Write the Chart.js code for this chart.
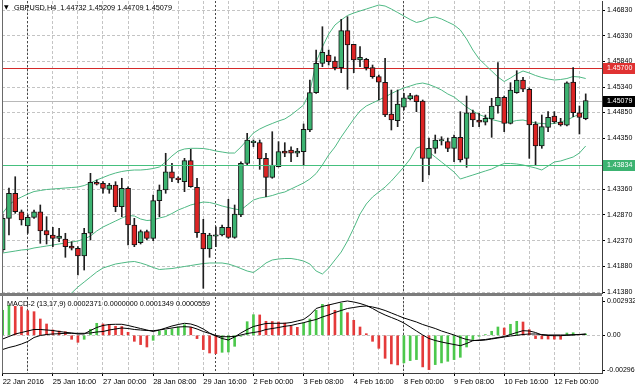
<!DOCTYPE html>
<html><head><meta charset="utf-8">
<script src="https://cdn.jsdelivr.net/npm/chart.js@4.4.1/dist/chart.umd.min.js"></script>
<style>
html,body{margin:0;padding:0;background:#fff;}
#wrap{position:relative;width:635px;height:391px;overflow:hidden;background:#fff;}
#c1{position:absolute;left:0;top:0;}
#c2{position:absolute;left:0;top:296px;}
</style></head><body>
<div id="wrap"><canvas id="c1" width="635" height="296"></canvas><canvas id="c2" width="635" height="95"></canvas></div>
<script>
// ---------- DATA ----------
const symbolName = 'GBPUSD,H4';
const openP = [1.42192,1.42804,1.43288,1.42932,1.42656,1.42824,1.42932,1.42565,1.42482,1.42418,
1.42404,1.42269,1.42225,1.42076,1.42515,1.43500,1.43481,1.43365,1.43448,1.43029,
1.43384,1.42675,1.42333,1.42546,1.42418,1.43145,1.43351,1.43705,1.43564,1.43512,
1.43918,1.43404,1.42515,1.42211,1.42457,1.42482,1.42631,1.42437,1.42868,1.43867,
1.44266,1.44266,1.43964,1.43597,1.43802,1.44105,1.44124,1.44061,1.44092,1.44511,
1.45232,1.45800,1.45960,1.45844,1.45715,1.46430,1.46167,1.45864,1.45877,1.45715,
1.45541,1.45433,1.44820,1.44691,1.44950,1.45110,1.45174,1.45071,1.43964,1.44157,
1.44298,1.44285,1.44157,1.44370,1.43964,1.44845,1.44704,1.44660,1.44724,1.44975,
1.45143,1.44640,1.45232,1.45477,1.45298,1.44627,1.44202,1.44563,1.44782,1.44666,
1.44602,1.45439,1.44845,1.44732];
const highP = [1.42887,1.43390,1.43608,1.42965,1.42868,1.42965,1.43062,1.42835,1.42631,1.42611,
1.42515,1.42352,1.42256,1.42611,1.43674,1.43545,1.43512,1.43481,1.43512,1.43578,
1.43415,1.42804,1.42578,1.42578,1.43255,1.43448,1.44061,1.43867,1.43608,1.43964,
1.44138,1.43578,1.42785,1.42515,1.42642,1.42675,1.43172,1.43062,1.43898,1.44447,
1.44318,1.44318,1.44061,1.44478,1.44285,1.44266,1.44188,1.44157,1.44627,1.45477,
1.46057,1.46507,1.46057,1.45927,1.46650,1.46701,1.46167,1.46121,1.45897,1.45767,
1.45574,1.45897,1.45284,1.45284,1.45220,1.45220,1.45187,1.45091,1.44356,1.44414,
1.44381,1.44356,1.44414,1.44865,1.45168,1.44897,1.44834,1.44801,1.45124,1.45812,
1.45168,1.45425,1.45657,1.45529,1.45323,1.44671,1.44801,1.44865,1.44865,1.44737,
1.45444,1.45715,1.44975,1.45209];
const lowP = [1.42153,1.42482,1.42901,1.42675,1.42515,1.42804,1.42321,1.42308,1.42256,1.42352,
1.42051,1.42192,1.41709,1.41805,1.42385,1.43448,1.43288,1.43288,1.42932,1.42835,
1.42288,1.42256,1.42308,1.42385,1.42372,1.42835,1.43288,1.43512,1.43492,1.43319,
1.43404,1.42437,1.41452,1.42051,1.42256,1.42462,1.42418,1.42418,1.42835,1.43835,
1.44188,1.43751,1.43222,1.43578,1.43796,1.43995,1.43898,1.43995,1.43835,1.44478,
1.45220,1.45734,1.45767,1.45670,1.45618,1.45298,1.45618,1.45734,1.45670,1.45510,
1.45091,1.44768,1.44511,1.44575,1.44897,1.45091,1.44865,1.43512,1.43641,1.44061,
1.44221,1.44092,1.43898,1.43892,1.43790,1.44575,1.44575,1.44608,1.44370,1.44834,
1.44478,1.44627,1.45220,1.45251,1.43964,1.43835,1.44157,1.44478,1.44640,1.44588,
1.44588,1.44768,1.44434,1.44709];
const closeP = [1.42804,1.43288,1.42932,1.42772,1.42824,1.42932,1.42559,1.42482,1.42418,1.42462,
1.42256,1.42225,1.42076,1.42515,1.43500,1.43462,1.43384,1.43448,1.43029,1.43384,
1.42675,1.42288,1.42546,1.42418,1.43145,1.43351,1.43705,1.43578,1.43552,1.43918,
1.43415,1.42526,1.42211,1.42482,1.42476,1.42631,1.42437,1.42887,1.43867,1.44318,
1.44268,1.43951,1.43597,1.43835,1.44092,1.44061,1.44061,1.44105,1.44524,1.45232,
1.45800,1.46013,1.45831,1.45715,1.46430,1.46154,1.45864,1.45916,1.45715,1.45541,
1.45433,1.44801,1.44704,1.45013,1.45135,1.45174,1.45058,1.43964,1.44157,1.44318,
1.44300,1.44157,1.44370,1.43931,1.44845,1.44704,1.44660,1.44737,1.44975,1.45143,
1.44640,1.45284,1.45477,1.45298,1.44608,1.44202,1.44575,1.44756,1.44666,1.44608,
1.45425,1.44845,1.44756,1.45079];
const bbUpper = [1.42907,1.43062,1.43158,1.43216,1.43274,1.43322,1.43342,1.43361,1.43371,1.43380,
1.43390,1.43400,1.43409,1.43438,1.43487,1.43545,1.43593,1.43641,1.43680,1.43709,
1.43728,1.43738,1.43738,1.43748,1.43767,1.43796,1.43893,1.44008,1.44105,1.44144,
1.44157,1.44157,1.44153,1.44134,1.44105,1.44086,1.44066,1.44066,1.44182,1.44318,
1.44453,1.44530,1.44588,1.44637,1.44685,1.44724,1.44801,1.44897,1.44994,1.45245,
1.45825,1.46115,1.46366,1.46540,1.46637,1.46724,1.46772,1.46811,1.46849,1.46888,
1.46927,1.46907,1.46849,1.46782,1.46714,1.46646,1.46589,1.46618,1.46675,1.46695,
1.46656,1.46598,1.46540,1.46444,1.46270,1.46057,1.45883,1.45767,1.45651,1.45535,
1.45448,1.45516,1.45593,1.45651,1.45613,1.45564,1.45526,1.45497,1.45477,1.45487,
1.45506,1.45545,1.45535,1.45506];
const bbMiddle = [1.42134,1.42153,1.42172,1.42192,1.42202,1.42231,1.42250,1.42269,1.42288,1.42308,
1.42327,1.42346,1.42366,1.42404,1.42462,1.42559,1.42636,1.42694,1.42752,1.42810,
1.42859,1.42849,1.42791,1.42762,1.42772,1.42810,1.42839,1.42897,1.42965,1.43013,
1.43062,1.43091,1.43119,1.43110,1.43081,1.43042,1.43013,1.42984,1.42965,1.43062,
1.43158,1.43197,1.43216,1.43245,1.43284,1.43313,1.43371,1.43429,1.43487,1.43564,
1.43670,1.43835,1.44028,1.44182,1.44376,1.44550,1.44724,1.44878,1.44975,1.45033,
1.45091,1.45149,1.45216,1.45274,1.45323,1.45361,1.45400,1.45419,1.45390,1.45342,
1.45284,1.45207,1.45149,1.45052,1.44955,1.44878,1.44810,1.44762,1.44714,1.44685,
1.44656,1.44666,1.44695,1.44704,1.44675,1.44646,1.44637,1.44627,1.44637,1.44666,
1.44704,1.44762,1.44820,1.44869];
const bbLower = [1.41361,1.41245,1.41187,1.41168,1.41129,1.41139,1.41158,1.41177,1.41206,1.41235,
1.41284,1.41361,1.41477,1.41573,1.41670,1.41767,1.41844,1.41883,1.41921,1.41941,
1.41960,1.41970,1.41941,1.41902,1.41854,1.41815,1.41825,1.41834,1.41854,1.41873,
1.41892,1.41912,1.41931,1.41941,1.41941,1.41941,1.41921,1.41883,1.41834,1.41786,
1.41757,1.41844,1.41941,1.41999,1.42018,1.42028,1.42028,1.42008,1.41979,1.41921,
1.41786,1.41728,1.41844,1.41999,1.42153,1.42366,1.42617,1.42887,1.43081,1.43216,
1.43313,1.43409,1.43525,1.43661,1.43796,1.43951,1.44163,1.44202,1.44086,1.43989,
1.43893,1.43796,1.43699,1.43564,1.43603,1.43641,1.43680,1.43719,1.43757,1.43815,
1.43864,1.43864,1.43854,1.43835,1.43806,1.43777,1.43738,1.43815,1.43893,1.43912,
1.43951,1.43989,1.44066,1.44202];
const macdHist = [0.002138,0.002565,0.002480,0.002445,0.002103,0.002018,0.001394,0.000966,0.000453,0.000368,
0.000308,-0.000342,-0.000599,-0.000342,0.000513,0.001026,0.000966,0.000930,0.000770,0.000750,
0.000257,-0.000513,-0.000795,-0.001000,-0.000428,0.000342,0.000428,0.000539,0.000710,0.000906,
0.000684,-0.000282,-0.001223,-0.001513,-0.001565,-0.001454,-0.001428,-0.000941,-0.000086,0.001163,
0.001761,0.001740,0.001197,0.001180,0.001137,0.001052,0.000770,0.000684,0.001052,0.001394,
0.002138,0.002650,0.002600,0.002138,0.002736,0.001932,0.001283,0.000710,0.000137,-0.000513,
-0.001112,-0.001967,-0.002445,-0.002531,-0.002360,-0.002163,-0.002078,-0.002702,-0.002933,-0.002505,
-0.002360,-0.002223,-0.002078,-0.001881,-0.001000,-0.000368,-0.000086,0.000060,0.000342,0.000710,
0.000624,0.000941,0.001197,0.001137,0.000479,-0.000282,-0.000308,-0.000322,-0.000330,-0.000340,
0.000197,0.000220,0.000086,0.000111];
const macdMain = [-0.000316,-0.000103,0.000111,0.000239,0.000368,0.000496,0.000496,0.000453,0.000410,0.000325,
0.000257,0.000197,0.000111,0.000111,0.000410,0.000667,0.000838,0.000923,0.000941,0.000941,
0.000838,0.000710,0.000581,0.000453,0.000325,0.000453,0.000624,0.000795,0.000923,0.001026,
0.000966,0.000795,0.000539,0.000197,-0.000060,-0.000274,-0.000402,-0.000145,0.000197,0.000496,
0.000752,0.000881,0.001009,0.001026,0.001026,0.001026,0.001094,0.001223,0.001351,0.001736,
0.002291,0.002462,0.002591,0.002719,0.002847,0.002933,0.002847,0.002719,0.002548,0.002291,
0.001992,0.001736,0.001522,0.001308,0.001052,0.000710,0.000368,0.000026,-0.000274,-0.000445,
-0.000573,-0.000684,-0.000787,-0.000889,-0.000701,-0.000462,-0.000402,-0.000359,-0.000274,-0.000188,
-0.000103,0.000068,0.000239,0.000393,0.000368,0.000239,0.000026,-0.000017,-0.000034,-0.000034,
0.000000,0.000026,0.000068,0.000111];
const macdSignal = [-0.001214,-0.001043,-0.000915,-0.000744,-0.000530,-0.000188,-0.000017,0.000068,0.000111,0.000137,
0.000171,0.000171,0.000171,0.000171,0.000197,0.000282,0.000325,0.000453,0.000539,0.000624,
0.000581,0.000496,0.000453,0.000410,0.000393,0.000453,0.000539,0.000624,0.000710,0.000735,
0.000710,0.000539,0.000325,0.000154,-0.000017,-0.000120,-0.000120,-0.000103,0.000026,0.000154,
0.000239,0.000325,0.000496,0.000581,0.000667,0.000770,0.000838,0.000966,0.001077,0.001223,
0.001351,0.001565,0.001736,0.001949,0.002120,0.002291,0.002377,0.002462,0.002505,0.002420,
0.002291,0.002120,0.001907,0.001693,0.001479,0.001308,0.001137,0.000923,0.000752,0.000581,
0.000368,0.000197,0.000026,-0.000188,-0.000359,-0.000445,-0.000445,-0.000402,-0.000316,-0.000231,
-0.000145,-0.000060,0.000000,0.000068,0.000111,0.000111,0.000068,0.000026,0.000026,0.000026,
0.000026,0.000051,0.000068,0.000086];
const priceTicks = [1.41380,1.41880,1.42370,1.42870,1.43360,1.43850,1.44350,1.44850,1.45340,1.45840,1.46330,1.46830];
const macdTicks = [0.002932, 0, -0.002967];
const macdTickLabels = ['0.002932', '0.00', '-0.002967'];
const timeLabelBars = [0,8,16,24,32,40,48,56,64,72,80,88];
const timeLabels = ['22 Jan 2016','25 Jan 16:00','27 Jan 00:00','28 Jan 08:00','29 Jan 16:00','2 Feb 00:00',
  '3 Feb 08:00','4 Feb 16:00','8 Feb 00:00','9 Feb 08:00','10 Feb 16:00','12 Feb 00:00'];
const gridBars = [0,4,8,12,16,20,24,28,32,36,40,44,48,52,56,60,64,68,72,76,80,84,88,92];
const weekStartBars = [4, 34, 64];
const resistanceLevel = 1.45700;
const supportLevel = 1.43834;
const macdTitle = 'MACD-2 (13,17,9) 0.0002371 0.0000000 0.0001349 0.0000559';

// ---------- STYLE ----------
const BULL = '#3cb371', BEAR = '#dc2424', EDGE = '#141414', BAND = '#4fb984';
const SUPPORT = '#45c07e';
const GRID = '#c4c4c4', AXIS = '#3c3c3c';
const FONT = '"Liberation Sans", Arial, sans-serif';
const XMIN = -0.11, XMAX = 95.6;

const idx = openP.map((_, i) => i);
const bodies = idx.map(i => ({x: i, y: [openP[i], closeP[i]]}));
const wicks = idx.map(i => ({x: i, y: [lowP[i], highP[i]]}));
const bodyColors = idx.map(i => closeP[i] >= openP[i] ? BULL : BEAR);
const line = arr => arr.map((v, i) => ({x: i, y: v}));

function xAxis(extra) {
  return Object.assign({
    type: 'linear', min: XMIN, max: XMAX, offset: false,
    afterBuildTicks: s => { s.ticks = gridBars.map(v => ({value: v})); },
  }, extra);
}
function weekLines(chart) {
  const {ctx, chartArea: a, scales: {x}} = chart;
  ctx.save();
  ctx.strokeStyle = '#4a4a4a'; ctx.lineWidth = 1; ctx.setLineDash([2, 2]);
  weekStartBars.forEach(b => {
    const px = Math.round(x.getPixelForValue(b)) - 0.5;
    ctx.beginPath(); ctx.moveTo(px, a.top); ctx.lineTo(px, a.bottom); ctx.stroke();
  });
  ctx.restore();
}
function hLine(chart, v, c) {
  const {ctx, chartArea: a, scales: {y}} = chart;
  const py = Math.round(y.getPixelForValue(v)) + 0.5;
  ctx.save(); ctx.setLineDash([]); ctx.strokeStyle = c; ctx.lineWidth = 1;
  ctx.beginPath(); ctx.moveTo(a.left, py); ctx.lineTo(a.right, py); ctx.stroke(); ctx.restore();
}

const mainDecor = {
  id: 'mainDecor',
  beforeDatasetsDraw(chart) {
    weekLines(chart);
    hLine(chart, closeP[closeP.length - 1], '#b8b8b8');
    hLine(chart, resistanceLevel, '#d42a2a');
  },
  afterDatasetsDraw(chart) {
    hLine(chart, supportLevel, SUPPORT);
  },
  afterDraw(chart) {
    const {ctx, chartArea: a, scales: {y}} = chart;
    const box = (v, bg) => {
      const py = Math.round(y.getPixelForValue(v));
      ctx.fillStyle = bg; ctx.fillRect(a.right + 1, py - 5, 33, 11);
      ctx.fillStyle = '#fff'; ctx.font = '7px ' + FONT;
      ctx.textBaseline = 'middle'; ctx.textAlign = 'left';
      ctx.fillText(v.toFixed(5), a.right + 5, py + 0.5);
    };
    box(resistanceLevel, '#e03232');
    box(closeP[closeP.length - 1], '#000');
    box(supportLevel, '#3cb371');
    // frame
    ctx.fillStyle = '#7c7c7c'; ctx.fillRect(0, a.bottom, a.right, 3);
    ctx.fillStyle = '#6a6a6a'; ctx.fillRect(a.left, 0, 1, a.bottom);
    // title
    const last = openP.length - 1;
    ctx.fillStyle = '#000'; ctx.textBaseline = 'middle'; ctx.textAlign = 'left';
    ctx.font = '6px "DejaVu Sans", sans-serif';
    ctx.fillText('\u25BC', 4, 7.5);
    ctx.font = '8px ' + FONT;
    const t = symbolName + '  ' + [openP[last], highP[last], lowP[last], closeP[last]].map(v => v.toFixed(5)).join(' ');
    ctx.fillText(t, 14, 7.5, 158);
  }
};

new Chart(document.getElementById('c1'), {
  type: 'bar',
  data: {datasets: [
    {type: 'bar', data: bodies, backgroundColor: bodyColors, borderColor: EDGE, borderWidth: 1,
     borderSkipped: false, barThickness: 5, grouped: false, minBarLength: 1.5, order: 0},
    {type: 'bar', data: wicks, backgroundColor: '#1e1e1e', borderWidth: 0, barThickness: 1, grouped: false, order: 1},
    {type: 'line', data: line(bbUpper), borderColor: BAND, borderWidth: 1, pointRadius: 0, tension: 0, fill: false, order: 2},
    {type: 'line', data: line(bbMiddle), borderColor: BAND, borderWidth: 1, pointRadius: 0, tension: 0, fill: false, order: 2},
    {type: 'line', data: line(bbLower), borderColor: BAND, borderWidth: 1, pointRadius: 0, tension: 0, fill: false, order: 2}
  ]},
  options: {
    responsive: false, animation: false, devicePixelRatio: 1, events: [],
    layout: {padding: {left: 2, top: 1, right: 0, bottom: 3}},
    plugins: {legend: {display: false}, tooltip: {enabled: false}},
    scales: {
      x: xAxis({
        ticks: {display: false},
        grid: {color: GRID, drawTicks: false, offset: false},
        border: {display: false, dash: [3, 2]},
        afterFit: s => { s.height = 0; s.paddingLeft = 0; s.paddingRight = 0; }
      }),
      y: {
        type: 'linear', position: 'right', min: 1.41361, max: 1.47004, beginAtZero: false,
        afterBuildTicks: s => { s.ticks = priceTicks.map(v => ({value: v})); },
        ticks: {font: {family: FONT, size: 7}, color: '#000', padding: 2, callback: v => Number(v).toFixed(5)},
        grid: {color: c => (c.tick && Math.abs(c.tick.value - supportLevel) < 0.0003) ? 'rgba(0,0,0,0)' : GRID,
               tickLength: 3, tickColor: '#000'},
        border: {display: true, color: AXIS, dash: [3, 2]},
        afterFit: s => { s.width = 33; s.paddingTop = 0; s.paddingBottom = 0; }
      }
    }
  },
  plugins: [mainDecor]
});

const macdDecor = {
  id: 'macdDecor',
  beforeDatasetsDraw(chart) { weekLines(chart); },
  afterDraw(chart) {
    const {ctx, chartArea: a} = chart;
    ctx.fillStyle = '#6a6a6a'; ctx.fillRect(a.left, 0, 1, a.bottom);
    ctx.fillStyle = '#000'; ctx.font = '8px ' + FONT;
    ctx.textBaseline = 'middle'; ctx.textAlign = 'left';
    ctx.fillText(macdTitle, 7, 8, 203);
  }
};

const histColors = macdHist.map((v, i) => (i === 0 || v >= macdHist[i - 1]) ? '#4cc84c' : '#e43a3a');

new Chart(document.getElementById('c2'), {
  type: 'bar',
  data: {datasets: [
    {type: 'line', data: line(macdMain), borderColor: '#000', borderWidth: 1, pointRadius: 0, tension: 0, fill: false, order: 0},
    {type: 'line', data: line(macdSignal), borderColor: '#000', borderWidth: 1, pointRadius: 0, tension: 0, fill: false, order: 0},
    {type: 'bar', data: line(macdHist), backgroundColor: histColors, borderWidth: 0, barThickness: 2, grouped: false, order: 1}
  ]},
  options: {
    responsive: false, animation: false, devicePixelRatio: 1, events: [],
    layout: {padding: {left: 2, top: 1, right: 0, bottom: 0}},
    plugins: {legend: {display: false}, tooltip: {enabled: false}},
    scales: {
      x: xAxis({
        ticks: {autoSkip: false, maxRotation: 0, minRotation: 0, align: 'start', padding: 1,
                font: {family: FONT, size: 7.5}, color: '#000',
                callback: v => { const k = timeLabelBars.indexOf(v); return k >= 0 ? timeLabels[k] : ''; }},
        grid: {color: GRID, tickLength: 3, offset: false,
               tickColor: c => (c.tick && timeLabelBars.includes(c.tick.value)) ? '#000' : 'rgba(0,0,0,0)'},
        border: {display: true, color: AXIS, dash: [3, 2]},
        afterFit: s => { s.height = 18; s.paddingLeft = 0; s.paddingRight = 0; }
      }),
      y: {
        type: 'linear', position: 'right', min: -0.003223, max: 0.003274, beginAtZero: false,
        afterBuildTicks: s => { s.ticks = macdTicks.map(v => ({value: v})); },
        ticks: {font: {family: FONT, size: 7}, color: '#000', padding: 2,
                callback: v => { const k = macdTicks.indexOf(v); return k >= 0 ? macdTickLabels[k] : ''; }},
        grid: {color: c => (c.tick && c.tick.value === 0) ? GRID : 'rgba(0,0,0,0)', tickLength: 3, tickColor: '#000'},
        border: {display: true, color: AXIS, dash: [3, 2]},
        afterFit: s => { s.width = 33; s.paddingTop = 0; s.paddingBottom = 0; }
      }
    }
  },
  plugins: [macdDecor]
});
</script>
</body></html>
